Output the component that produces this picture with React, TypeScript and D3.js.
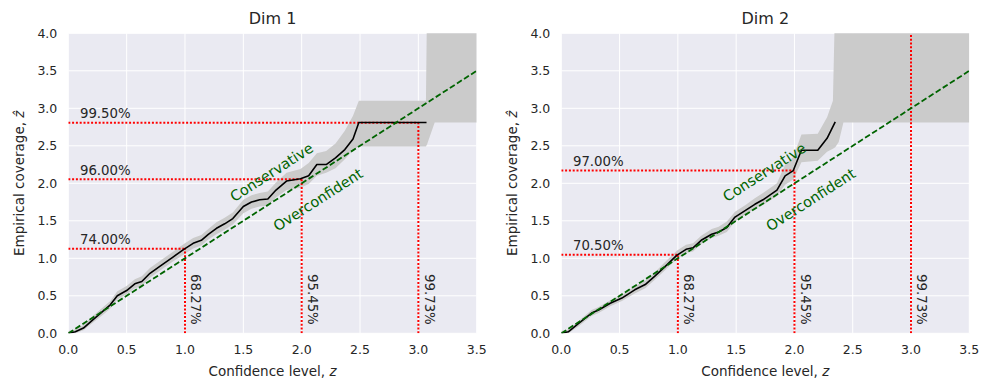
import React from "react";
import * as d3 from "d3";

const xTicks = [0, 0.5, 1, 1.5, 2, 2.5, 3, 3.5];
const yTicks = [0, 0.5, 1, 1.5, 2, 2.5, 3, 3.5, 4];
const titles = ["Dim 1", "Dim 2"];

// Dim 1 empirical coverage curve
const dim1Z = [0, 0.06, 0.13, 0.21, 0.3, 0.36, 0.42, 0.5, 0.57, 0.63, 0.7, 0.79, 0.9, 0.99, 1.07, 1.14, 1.2, 1.27, 1.34, 1.41, 1.5, 1.57, 1.64, 1.71, 1.78, 1.87, 1.99, 2.06, 2.13, 2.21, 2.29, 2.37, 2.44, 2.49, 3.07];
const dim1Cov = [0, 0.02, 0.07, 0.18, 0.3, 0.38, 0.5, 0.57, 0.66, 0.69, 0.8, 0.9, 1.02, 1.12, 1.2, 1.24, 1.32, 1.4, 1.46, 1.53, 1.69, 1.75, 1.78, 1.79, 1.91, 2.03, 2.06, 2.1, 2.25, 2.25, 2.34, 2.45, 2.59, 2.81, 2.81];
// Dim 1 band
const dim1BandZ = [0, 0.06, 0.13, 0.21, 0.3, 0.36, 0.42, 0.5, 0.57, 0.63, 0.7, 0.79, 0.9, 0.99, 1.07, 1.14, 1.2, 1.27, 1.34, 1.41, 1.5, 1.57, 1.64, 1.71, 1.78, 1.87, 1.99, 2.06, 2.13, 2.21, 2.29, 2.37, 2.44, 2.49, 3.065, 3.075, 3.14, 3.5];
const dim1BandLo = [0, 0, 0.04, 0.14, 0.25, 0.33, 0.45, 0.52, 0.6, 0.63, 0.74, 0.84, 0.96, 1.05, 1.13, 1.17, 1.25, 1.32, 1.38, 1.45, 1.6, 1.66, 1.69, 1.7, 1.81, 1.91, 1.94, 1.99, 2.1, 2.14, 2.2, 2.32, 2.44, 2.49, 2.49, 2.52, 2.81, 2.81];
const dim1BandHi = [0.03, 0.05, 0.11, 0.23, 0.35, 0.43, 0.56, 0.63, 0.72, 0.76, 0.87, 0.97, 1.09, 1.19, 1.27, 1.31, 1.39, 1.48, 1.54, 1.61, 1.78, 1.84, 1.87, 1.89, 2.01, 2.14, 2.19, 2.27, 2.4, 2.43, 2.53, 2.7, 2.9, 3.1, 3.1, 4.5, 4.5, 4.5];

// Dim 2 empirical coverage curve
const dim2Z = [0, 0.06, 0.146, 0.26, 0.32, 0.42, 0.52, 0.63, 0.72, 0.8, 0.89, 0.99, 1.07, 1.13, 1.2, 1.29, 1.35, 1.42, 1.49, 1.58, 1.66, 1.73, 1.85, 1.92, 1.99, 2.06, 2.2, 2.28, 2.35];
const dim2Cov = [0, 0.02, 0.13, 0.27, 0.31, 0.4, 0.47, 0.58, 0.65, 0.76, 0.89, 1.04, 1.12, 1.14, 1.24, 1.32, 1.35, 1.41, 1.55, 1.64, 1.72, 1.78, 1.91, 2.1, 2.17, 2.44, 2.44, 2.6, 2.82];
// Dim 2 band
const dim2BandZ = [0, 0.06, 0.146, 0.26, 0.32, 0.42, 0.52, 0.63, 0.72, 0.8, 0.89, 0.99, 1.07, 1.13, 1.2, 1.29, 1.35, 1.42, 1.49, 1.58, 1.66, 1.73, 1.85, 1.92, 1.99, 2.06, 2.2, 2.28, 2.33, 2.35, 2.38, 2.42, 3.5];
const dim2BandLo = [0, 0, 0.09, 0.23, 0.27, 0.36, 0.43, 0.53, 0.6, 0.71, 0.84, 0.99, 1.07, 1.09, 1.19, 1.27, 1.3, 1.35, 1.49, 1.58, 1.66, 1.71, 1.83, 1.98, 2.05, 2.28, 2.3, 2.42, 2.46, 2.48, 2.55, 2.81, 2.81];
const dim2BandHi = [0.03, 0.05, 0.16, 0.31, 0.35, 0.44, 0.51, 0.63, 0.7, 0.81, 0.95, 1.1, 1.18, 1.2, 1.3, 1.39, 1.42, 1.49, 1.62, 1.71, 1.8, 1.87, 2.0, 2.25, 2.35, 2.65, 2.66, 2.88, 3.1, 4.5, 4.5, 4.5, 4.5];

// reference sigma levels
const sigmaZ = [1, 2, 3];
const sigmaLabels = ["68.27%", "95.45%", "99.73%"];
const dim1Hit = [1.126, 2.054, 2.807];
const dim1HitLabels = ["74.00%", "96.00%", "99.50%"];
const dim2Hit = [1.047, 2.17, Infinity];
const dim2HitLabels = ["70.50%", "97.00%", ""];

const FONT = "DejaVu Sans, sans-serif";
const TXT = "#262626";

type PanelProps = {
  idx: number;
  left: number;
  right: number;
  z: number[];
  cov: number[];
  bz: number[];
  blo: number[];
  bhi: number[];
  hit: number[];
  hitLabels: string[];
};

function Panel({ idx, left, right, z, cov, bz, blo, bhi, hit, hitLabels }: PanelProps) {
  const top = 33.3;
  const bottom = 333.3;
  const x = d3.scaleLinear().domain([0, 3.5]).range([left, right]);
  const y = d3.scaleLinear().domain([0, 4]).range([bottom, top]);
  const clipId = `clip${idx}`;
  const line = d3.line<number>().x((_, i) => x(z[i])).y((d) => y(d));
  const area = d3
    .area<number>()
    .x((_, i) => x(bz[i]))
    .y0((_, i) => y(blo[i]))
    .y1((d) => y(d));
  const angle = (Math.atan2(y(0) - y(1), x(1) - x(0)) * 180) / Math.PI;
  const cx = (left + right) / 2;
  const cy = (top + bottom) / 2;
  return (
    <g>
      <defs>
        <clipPath id={clipId}>
          <rect x={left} y={top} width={right - left} height={bottom - top} />
        </clipPath>
      </defs>
      <rect x={left} y={top} width={right - left} height={bottom - top} fill="#EAEAF2" />
      {xTicks.map((t) => (
        <line key={`gx${t}`} x1={x(t)} x2={x(t)} y1={top} y2={bottom} stroke="#fff" strokeWidth={1} />
      ))}
      {yTicks.map((t) => (
        <line key={`gy${t}`} x1={left} x2={right} y1={y(t)} y2={y(t)} stroke="#fff" strokeWidth={1} />
      ))}
      <g clipPath={`url(#${clipId})`}>
        <path d={area(bhi) || ""} fill="#cbcbcb" />
        {sigmaZ.map((s, i) => {
          const h = hit[i];
          const yTop = Number.isFinite(h) ? y(h) : top;
          return (
            <g key={`s${s}`}>
              {Number.isFinite(h) && (
                <line x1={x(0)} x2={x(s)} y1={y(h)} y2={y(h)} stroke="red" strokeWidth={2} strokeDasharray="2,1.8" />
              )}
              <line x1={x(s)} x2={x(s)} y1={y(0)} y2={yTop} stroke="red" strokeWidth={2} strokeDasharray="2,1.8" />
            </g>
          );
        })}
        <path d={line(cov) || ""} fill="none" stroke="#000" strokeWidth={1.6} strokeLinejoin="round" />
        <line x1={x(0)} y1={y(0)} x2={x(3.5)} y2={y(3.5)} stroke="#006400" strokeWidth={1.8} strokeDasharray="5.8,2.6" />
      </g>
      {sigmaZ.map((s, i) => (
        <g key={`l${s}`}>
          {hitLabels[i] && (
            <text x={x(0.1)} y={y(hit[i]) - 4.5} fontSize={13.3} fill={TXT} fontFamily={FONT}>
              {hitLabels[i]}
            </text>
          )}
          <text
            transform={`translate(${x(s + 0.053)},${y(0.79)}) rotate(90)`}
            fontSize={13.3}
            fill={TXT}
            fontFamily={FONT}
          >
            {sigmaLabels[i]}
          </text>
        </g>
      ))}
      <text
        transform={`translate(${x(1.743)},${y(2.147)}) rotate(${-angle})`}
        textAnchor="middle"
        dominantBaseline="central"
        fontSize={14.5}
        fill="#006400"
        fontFamily={FONT}
      >
        Conservative
      </text>
      <text
        transform={`translate(${x(2.14)},${y(1.78)}) rotate(${-angle})`}
        textAnchor="middle"
        dominantBaseline="central"
        fontSize={14.5}
        fill="#006400"
        fontFamily={FONT}
      >
        Overconfident
      </text>
      {xTicks.map((t) => (
        <text key={`tx${t}`} x={x(t)} y={354} textAnchor="middle" fontSize={12.5} fill={TXT} fontFamily={FONT}>
          {t.toFixed(1)}
        </text>
      ))}
      {yTicks.map((t) => (
        <text
          key={`ty${t}`}
          x={left - 11}
          y={y(t)}
          textAnchor="end"
          dominantBaseline="central"
          fontSize={12.5}
          fill={TXT}
          fontFamily={FONT}
        >
          {t.toFixed(1)}
        </text>
      ))}
      <text x={cx} y={24} textAnchor="middle" fontSize={16} fill={TXT} fontFamily={FONT}>
        {titles[idx]}
      </text>
      <text x={cx} y={376} textAnchor="middle" fontSize={13.5} fill={TXT} fontFamily={FONT}>
        Confidence level, <tspan fontStyle="italic">z</tspan>
      </text>
      <text
        transform={`translate(${left - 44.5},${cy}) rotate(-90)`}
        textAnchor="middle"
        fontSize={13.5}
        fill={TXT}
        fontFamily={FONT}
      >
        Empirical coverage, <tspan fontStyle="italic">ẑ</tspan>
      </text>
    </g>
  );
}

export default function App() {
  return (
    <svg width={989} height={390} style={{ position: "absolute", left: 0, top: 0, background: "#fff" }}>
      <rect width={989} height={390} fill="#fff" />
      <Panel idx={0} left={68.3} right={476.7} z={dim1Z} cov={dim1Cov} bz={dim1BandZ} blo={dim1BandLo} bhi={dim1BandHi} hit={dim1Hit} hitLabels={dim1HitLabels} />
      <Panel idx={1} left={561.3} right={969.3} z={dim2Z} cov={dim2Cov} bz={dim2BandZ} blo={dim2BandLo} bhi={dim2BandHi} hit={dim2Hit} hitLabels={dim2HitLabels} />
    </svg>
  );
}
